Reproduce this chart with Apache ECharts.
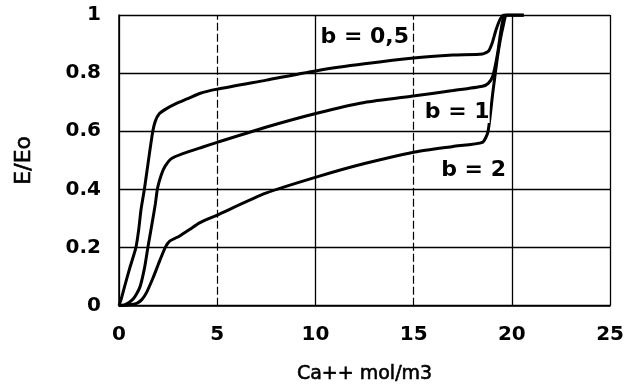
<!DOCTYPE html>
<html>
<head>
<meta charset="utf-8">
<script src="https://cdn.jsdelivr.net/npm/echarts@6/dist/echarts.min.js"></script>
<style>
  html, body { margin: 0; padding: 0; background: #fff; }
  #chart { width: 627px; height: 389px; }
</style>
</head>
<body>
<div id="chart"></div>
<script>
// Relative activity E/Eo against calcium concentration for three values of b
const xTicks = [0, 5, 10, 15, 20, 25];
const yTicks = [0, 0.2, 0.4, 0.6, 0.8, 1];

const curveB05 = [
  [0, 0], [0.1, 0.02], [0.3, 0.07], [0.55, 0.13], [0.86, 0.2], [1.0, 0.26],
  [1.12, 0.33], [1.3, 0.404], [1.5, 0.5], [1.72, 0.6], [1.85, 0.635],
  [2.05, 0.66], [2.4, 0.677], [2.9, 0.695], [3.5, 0.712], [4.1, 0.73],
  [5.0, 0.745], [7.5, 0.776], [10.2, 0.81], [12.5, 0.832], [15, 0.852],
  [17, 0.862], [18.5, 0.866], [18.8, 0.875], [19.0, 0.904], [19.2, 0.95],
  [19.4, 0.985], [19.6, 1], [20.6, 1]
];
const curveB1 = [
  [0, 0], [0.3, 0.003], [0.72, 0.023], [1.06, 0.063], [1.3, 0.13], [1.47, 0.2],
  [1.7, 0.29], [1.85, 0.35], [1.96, 0.404], [2.15, 0.45], [2.35, 0.48],
  [2.67, 0.506], [3.25, 0.523], [4.27, 0.546], [5.0, 0.562], [7.47, 0.614],
  [10.12, 0.663], [12.5, 0.699], [15.07, 0.722], [17, 0.74], [18.5, 0.755],
  [18.8, 0.765], [19.03, 0.79], [19.28, 0.87], [19.45, 0.949], [19.65, 1], [20.6, 1]
];
const curveB2 = [
  [0, 0], [0.5, 0.003], [0.9, 0.008], [1.15, 0.02], [1.4, 0.045], [1.74, 0.097],
  [2.07, 0.154], [2.35, 0.2], [2.58, 0.222], [3.09, 0.24], [3.59, 0.262],
  [4.1, 0.285], [4.94, 0.31], [7.47, 0.387], [10.12, 0.444], [12.5, 0.489],
  [15.07, 0.529], [17, 0.548], [18.5, 0.562], [18.78, 0.597], [19.03, 0.733],
  [19.3, 0.87], [19.55, 0.96], [19.75, 1], [20.6, 1]
];

const curveNames = ['b = 0,5', 'b = 1', 'b = 2'];
// where each curve's name is written (left edge, vertical middle)
const nameAnchors = [[10.26, 0.925], [15.57, 0.666], [16.4, 0.467]];
// vertical grid lines drawn dashed
const dashedX = [5, 15];

const chart = echarts.init(document.getElementById('chart'), null, { renderer: 'canvas' });

const curveLine = (name, data) => ({
  name: name,
  type: 'line',
  data: data,
  smooth: 0.2,
  showSymbol: false,
  symbol: 'none',
  lineStyle: { color: '#000', width: 3 },
  z: 5
});

const nameStyle = size => ({
  fontFamily: 'DejaVu Sans',
  fontSize: size,
  color: '#000',
  textBorderColor: '#000',
  textBorderWidth: 0.6
});

chart.setOption({
  animation: false,
  backgroundColor: '#fff',
  grid: { left: 119, right: 14, top: 15, bottom: 80.5 },
  xAxis: {
    type: 'value',
    min: xTicks[0],
    max: xTicks[xTicks.length - 1],
    interval: 5,
    name: 'Ca++ mol/m3',
    nameLocation: 'middle',
    nameGap: 59,
    nameTextStyle: nameStyle(19),
    axisLine: { show: true, lineStyle: { color: '#000', width: 1.5 } },
    axisTick: { show: false },
    axisLabel: { margin: 19, fontFamily: 'DejaVu Sans', fontWeight: 'bold', fontSize: 20, color: '#000' },
    splitLine: {
      show: true,
      lineStyle: {
        color: ['#000', 'rgba(0,0,0,0)', '#000', 'rgba(0,0,0,0)', '#000', '#000'],
        width: 1.3
      }
    }
  },
  yAxis: {
    type: 'value',
    min: yTicks[0],
    max: yTicks[yTicks.length - 1],
    interval: 0.2,
    name: 'E/Eo',
    nameLocation: 'middle',
    nameGap: 84,
    nameTextStyle: nameStyle(22),
    axisLine: { show: true, lineStyle: { color: '#000', width: 1.5 } },
    axisTick: { show: false },
    axisLabel: {
      margin: 18,
      fontFamily: 'DejaVu Sans',
      fontWeight: 'bold',
      fontSize: 20,
      color: '#000',
      formatter: v => String(Math.round(v * 10) / 10)
    },
    splitLine: { show: true, lineStyle: { color: '#000', width: 1.3 } }
  },
  series: [
    curveLine(curveNames[0], curveB05),
    curveLine(curveNames[1], curveB1),
    curveLine(curveNames[2], curveB2),
    {
      name: 'grid-dashed',
      type: 'line',
      data: [],
      silent: true,
      markLine: {
        silent: true,
        symbol: 'none',
        label: { show: false },
        lineStyle: { color: '#000', width: 1.2, type: [8, 3] },
        data: dashedX.map(x => ({ xAxis: x }))
      }
    },
    {
      name: 'curve-names',
      type: 'scatter',
      symbolSize: 0,
      silent: true,
      z: 6,
      itemStyle: { opacity: 1, color: '#000' },
      data: nameAnchors.map((p, i) => ({ value: p, label: { formatter: curveNames[i] } })),
      label: {
        show: true,
        position: 'right',
        distance: 0,
        align: 'left',
        verticalAlign: 'middle',
        fontFamily: 'DejaVu Sans',
        fontWeight: 'bold',
        fontSize: 22,
        color: '#000',
        opacity: 1,
        backgroundColor: '#fff'
      }
    }
  ]
});
</script>
</body>
</html>
